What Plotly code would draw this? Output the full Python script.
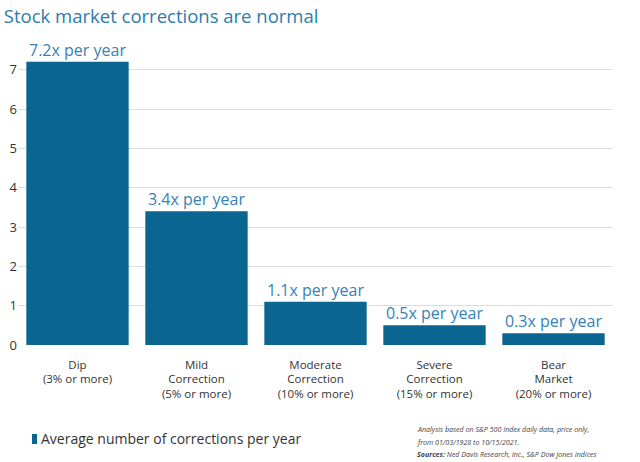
import plotly.graph_objects as go

categories = ["Dip<br>(3% or more)", "Mild<br>Correction<br>(5% or more)",
              "Moderate<br>Correction<br>(10% or more)", "Severe<br>Correction<br>(15% or more)",
              "Bear<br>Market<br>(20% or more)"]
values = [7.2, 3.4, 1.1, 0.5, 0.3]
value_labels = ["7.2x per year", "3.4x per year", "1.1x per year", "0.5x per year", "0.3x per year"]
y_ticks = [0, 1, 2, 3, 4, 5, 6, 7]
series_name = "Average number of corrections per year"
footnote_lines = [
    "<i>Analysis based on S&amp;P 500 Index daily data, price only,</i>",
    "<i>from 01/03/1928 to 10/15/2021.</i>",
    "<b><i>Sources:</i></b><i> Ned Davis Research, Inc., S&amp;P Dow Jones Indices</i>",
]

BAR = "#0b6591"
TXT_BLUE = "#3582b6"
FONT = "Open Sans"

x_pos = list(range(len(values)))

fig = go.Figure()
fig.add_trace(go.Bar(
    x=x_pos, y=values, marker_color=BAR, marker_line_width=0,
    name=series_name, showlegend=False, hoverinfo="skip",
))

# value labels above bars, anchored to the data through the axes
for xi, v, lab in zip(x_pos, values, value_labels):
    fig.add_annotation(x=xi, y=v, xref="x", yref="y", text=lab, showarrow=False,
                       xanchor="center", yanchor="bottom", yshift=-1,
                       font=dict(size=16, color=TXT_BLUE, family=FONT))

fig.update_layout(
    width=640, height=462,
    margin=dict(l=18, r=27, t=50, b=117, autoexpand=False),
    paper_bgcolor="white", plot_bgcolor="white",
    bargap=0.14,
    font=dict(family=FONT, color="#333333"),
    title=dict(text="Stock market corrections are normal", x=0.006, xanchor="left",
               y=0.964, yanchor="middle",
               font=dict(size=18.5, color="#2c7bb0", family=FONT)),
    xaxis=dict(tickvals=x_pos, ticktext=categories, range=[-0.5, 4.5],
               showgrid=False, zeroline=False, showline=False, ticks="", automargin=False,
               ticklabelstandoff=11,
               tickfont=dict(size=11.5, color="#333333", family=FONT)),
    yaxis=dict(range=[0, 7.5], tickvals=y_ticks, showgrid=True, gridcolor="#dddddd",
               gridwidth=1, zeroline=False, showline=False, ticks="", automargin=False,
               tickfont=dict(size=13, color="#333333", family=FONT)),
    showlegend=False,
)

# legend-style key: small bar swatch + label
fig.add_shape(type="rect", xref="paper", yref="paper",
              x0=0.0235, x1=0.032, y0=-0.3356, y1=-0.3017,
              fillcolor=BAR, line_width=0)
fig.add_annotation(
    xref="paper", yref="paper", x=0.0355, y=-0.3186, xanchor="left", yanchor="middle",
    showarrow=False, text=series_name,
    font=dict(size=14, color="#333333", family=FONT),
)

for i, line in enumerate(footnote_lines):
    fig.add_annotation(
        xref="paper", yref="paper", x=0.668, y=-0.285 - i * 0.0424,
        xanchor="left", yanchor="middle", align="left", showarrow=False,
        text=line, font=dict(size=7.1, color="#444444", family=FONT),
    )

fig.write_html("out.html", config={"displayModeBar": False},
               post_script="document.body.style.margin='0';")
